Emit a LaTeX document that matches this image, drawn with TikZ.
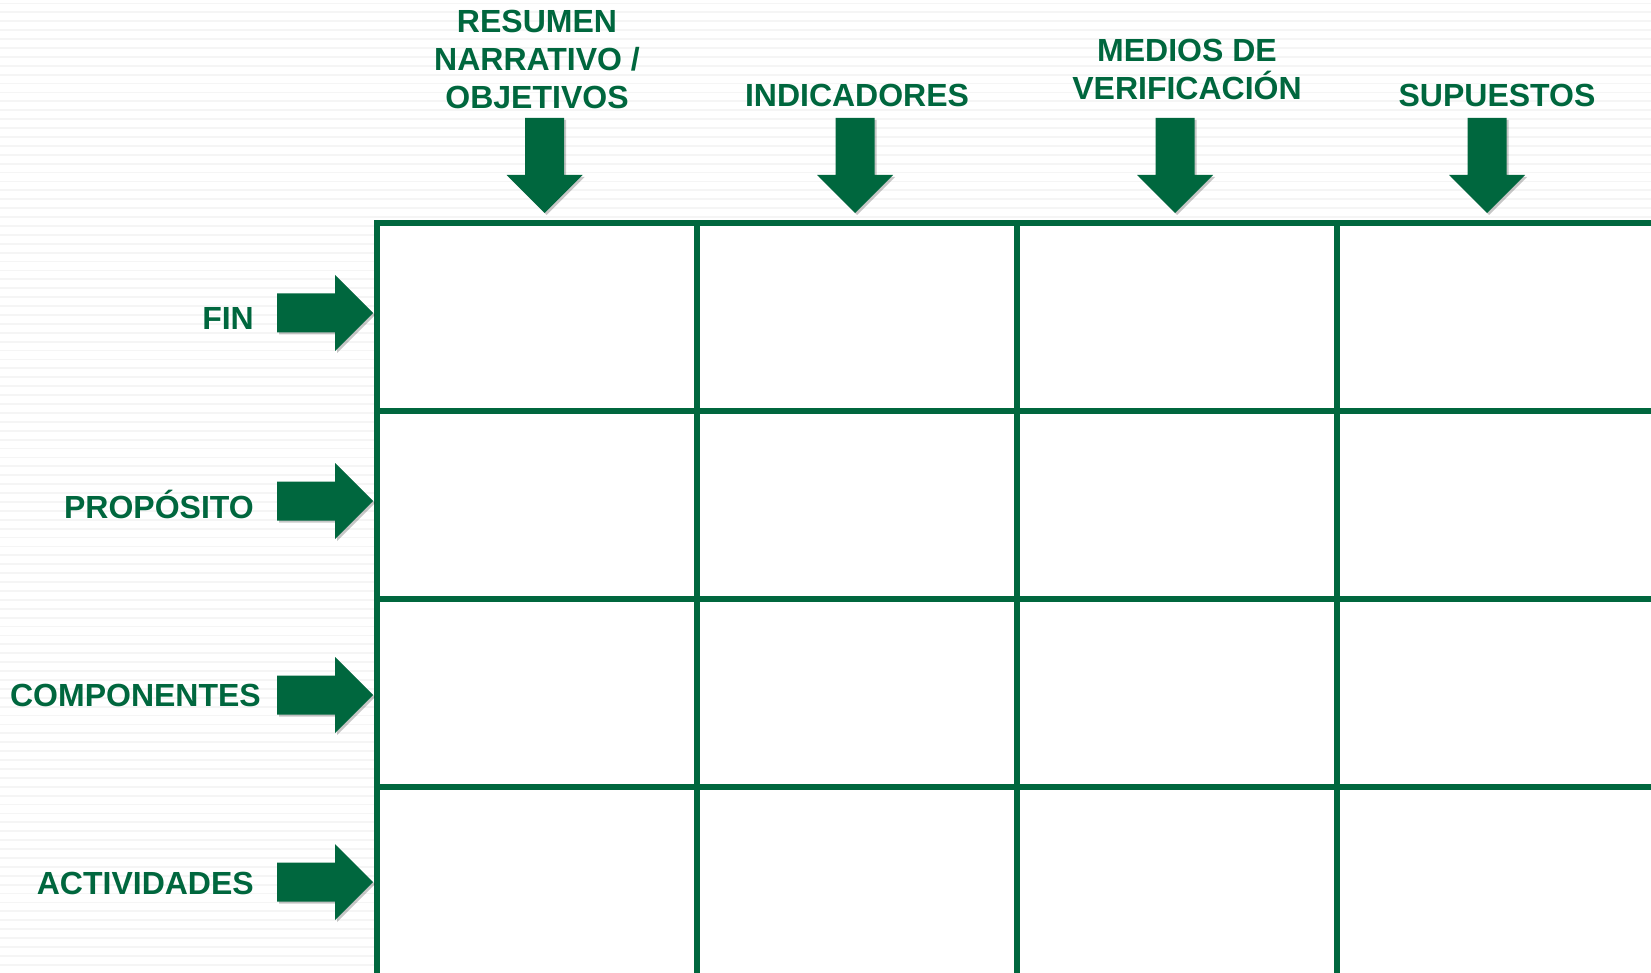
\documentclass[tikz,border=0pt]{standalone}
\usepackage{fontspec}
\setmainfont{Liberation Sans}
\usetikzlibrary{shadows}
\definecolor{mlgreen}{RGB}{0,103,62}
\tikzset{
  lbl/.style={font=\bfseries\fontsize{32}{38}\selectfont, text=mlgreen, inner sep=0pt, align=center},
  arr/.style={fill=mlgreen, drop shadow={shadow xshift=2pt, shadow yshift=-2pt, opacity=0.22, fill=black}},
  grid/.style={draw=mlgreen, line width=5.5pt},
  stripe/.style={draw=black!4, line width=1.8pt}
}
\newcommand\downarr[1]{\fill[arr] ({#1-19.5},118) -- ({#1+19.5},118) -- ({#1+19.5},175) -- ({#1+38},175) -- (#1,213) -- ({#1-38},175) -- ({#1-19.5},175) -- cycle;}
\newcommand\rightarr[1]{\fill[arr] (277,{#1-19.5}) -- (335,{#1-19.5}) -- (335,{#1-38}) -- (373,#1) -- (335,{#1+38}) -- (335,{#1+19.5}) -- (277,{#1+19.5}) -- cycle;}
\begin{document}
\begin{tikzpicture}[x=1pt,y=-1pt]
\useasboundingbox (0,0) rectangle (1651,973);
\fill[white] (0,0) rectangle (1651,973);
\foreach \y in {3.5,12.4,...,973} \draw[stripe] (0,\y) -- (1651,\y);
% table
\fill[white] (377,223) rectangle (1660,980);
\foreach \x in {377,697,1017,1337} \draw[grid] (\x,223) -- (\x,980);
\foreach \y in {223,411,599,787} \draw[grid] (374.25,\y) -- (1660,\y);
% column headers
\node[lbl] (h1) at (537,59) {RESUMEN\\NARRATIVO /\\OBJETIVOS};
\node[lbl] (h2) at (857,95) {INDICADORES};
\node[lbl] (h3) at (1187,69) {MEDIOS DE\\VERIFICACIÓN};
\node[lbl] (h4) at (1497,95) {SUPUESTOS};
\downarr{544.5}
\downarr{855}
\downarr{1175}
\downarr{1487}
% row labels
\node[lbl, anchor=base east] (r1) at (254,330) {FIN};
\node[lbl, anchor=base east] (r2) at (254,518) {PROPÓSITO};
\node[lbl, anchor=base east] (r3) at (261,706.5) {COMPONENTES};
\node[lbl, anchor=base east] (r4) at (254,894) {ACTIVIDADES};
\rightarr{313}
\rightarr{501}
\rightarr{695}
\rightarr{882}
\end{tikzpicture}
\end{document}
